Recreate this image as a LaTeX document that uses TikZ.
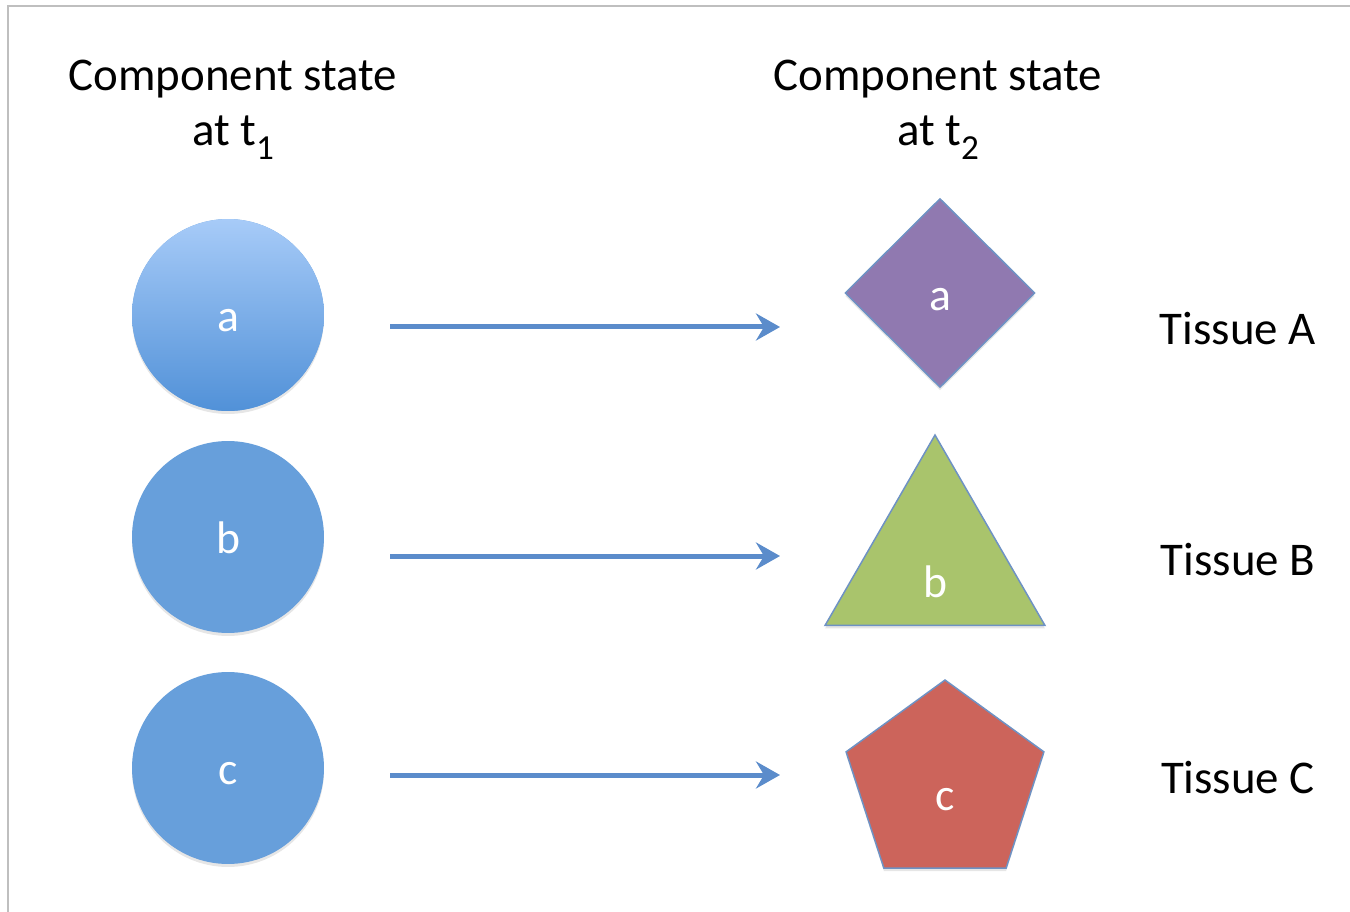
\documentclass[tikz,border=0pt]{standalone}
\usepackage{fontspec}
\setmainfont{Carlito}
\usetikzlibrary{arrows.meta,shapes.geometric,shadows}
\definecolor{cblue}{HTML}{679FDB}
\definecolor{ctop}{HTML}{A7CBF8}
\definecolor{cbot}{HTML}{5191D8}
\definecolor{ablue}{HTML}{5B8CCB}
\definecolor{rim}{HTML}{6E92C4}
\definecolor{vio}{HTML}{9079B0}
\definecolor{lime}{HTML}{A9C46C}
\definecolor{brick}{HTML}{CC645B}
\newcommand{\tsub}[1]{\raisebox{-0.28cm}{\fontsize{20}{20}\selectfont #1}}
\tikzset{sh/.append style={drop shadow={shadow xshift=0cm,shadow yshift=-0.06cm,opacity=0.2}}}
\tikzset{cs/.append style={circle,minimum size=3.84cm,inner sep=0,fill=cblue,text=white,
  font=\fontsize{26}{30}\selectfont,text height=0.68cm,text depth=0pt,sh}}
\tikzset{gs/.append style={draw=rim,line width=0.03cm,inner sep=0,sh}}
\tikzset{lb/.append style={text=white,font=\fontsize{26}{30}\selectfont}}
\tikzset{tt/.append style={font=\fontsize{26.7}{31.5}\selectfont,align=center}}
\tikzset{fl/.append style={draw=ablue,line width=0.1cm,-{Stealth[length=0.48cm,width=0.54cm,inset=0.16cm]}}}

\begin{document}
\begin{tikzpicture}[x=0.02cm,y=-0.02cm]
                \useasboundingbox (0,0) rectangle (1350,912);
                \draw[black!25,line width=0.04cm] (8,912) -- (8,6) -- (1350,6);
                % titles
                \node[tt] (h1) at (233,110) {Component state\\at t\tsub{1}};
                \node[tt] (h2) at (938,110) {Component state\\at t\tsub{2}};
                % states at t1
                \node[cs,top color=ctop,bottom color=cbot] (ca) at (228,315) {a};
                \node[cs] (cb) at (228,537) {b};
                \node[cs] (cc) at (228,768) {c};
                % states at t2
                \node[gs,diamond,fill=vio,minimum width=3.8cm,minimum height=3.78cm,
                  label={[lb,yshift=-0.14cm]center:a}] (da) at (940,293) {};
                \node[gs,regular polygon,regular polygon sides=3,fill=lime,minimum size=5.08cm,
                  label={[lb,yshift=-0.4cm]center:b}] (db) at (935,562) {};
                \node[gs,regular polygon,regular polygon sides=5,fill=brick,minimum size=4.16cm,
                  label={[lb,yshift=-0.32cm]center:c}] (dc) at (945,784) {};
                % tissues
                \node[tt,anchor=base] (ta) at (1238,345) {Tissue A};
                \node[tt,anchor=base] (tb) at (1238,575) {Tissue B};
                \node[tt,anchor=base] (tc) at (1238,793) {Tissue C};
                % arrows
                \coordinate (pa) at (390,327);
                \coordinate (qa) at (780,327);
                \coordinate (pb) at (390,556);
                \coordinate (qb) at (780,556);
                \coordinate (pc) at (390,775);
                \coordinate (qc) at (780,775);
                \draw[fl] (pa) -- (qa);
                \draw[fl] (pb) -- (qb);
                \draw[fl] (pc) -- (qc);
            \end{tikzpicture}
\end{document}
